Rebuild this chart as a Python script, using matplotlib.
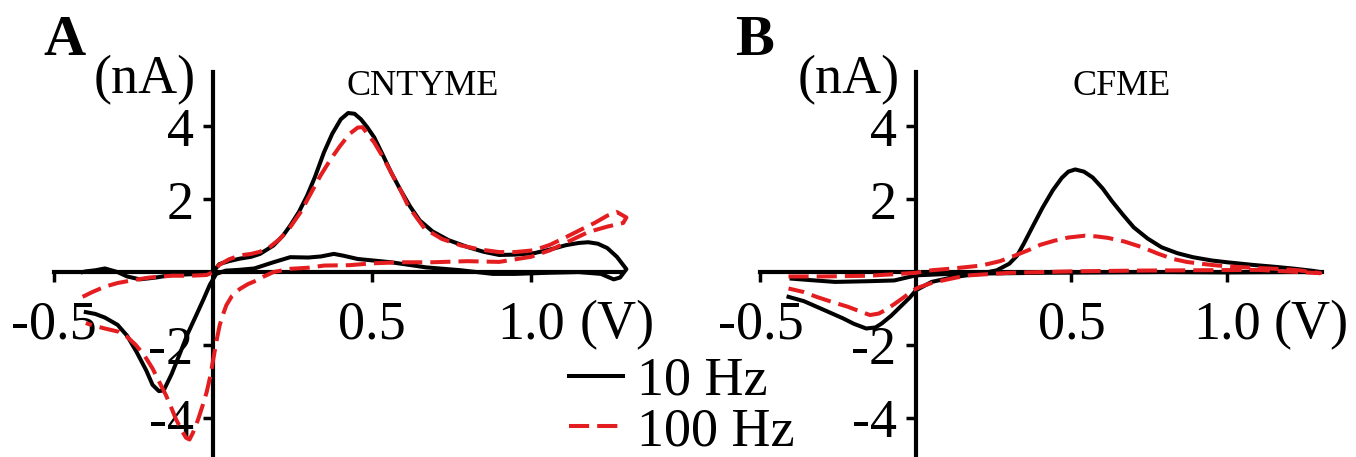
import matplotlib
matplotlib.use('Agg')
import matplotlib.pyplot as plt

plt.rcParams['font.family'] = ['Liberation Serif', 'DejaVu Serif']
plt.rcParams['axes.unicode_minus'] = False

# ---- panel A (CNTYME), potential in V, current in nA ----
a10_v = [-0.41, -0.40, -0.37, -0.34, -0.30, -0.27, -0.23, -0.18, -0.13, -0.07, -0.02, 0.0, 0.02, 0.05,
         0.085, 0.12, 0.148, 0.19, 0.22, 0.243, 0.27, 0.296, 0.32, 0.349, 0.375, 0.402, 0.425, 0.445,
         0.465, 0.485, 0.507, 0.535, 0.56, 0.59, 0.62, 0.65, 0.69, 0.74, 0.80, 0.85, 0.90, 0.95, 1.01,
         1.06, 1.11, 1.15, 1.18, 1.21, 1.24, 1.27, 1.30, 1.28, 1.26,
         1.22, 1.15, 1.05, 0.95, 0.88, 0.78, 0.67, 0.56, 0.455, 0.41, 0.38, 0.34, 0.30, 0.243, 0.19,
         0.13, 0.08, 0.04, 0.01, -0.01, -0.03, -0.053, -0.08, -0.106, -0.13, -0.155, -0.17, -0.19,
         -0.21, -0.24, -0.27, -0.30, -0.34, -0.37, -0.40]
a10_i = [0.0, 0.02, 0.05, 0.1, 0.0, -0.12, -0.2, -0.15, -0.08, -0.06, -0.05, 0.0, 0.22, 0.3,
         0.37, 0.42, 0.5, 0.73, 1.0, 1.28, 1.65, 2.1, 2.6, 3.29, 3.8, 4.2, 4.37, 4.35,
         4.2, 3.98, 3.7, 3.2, 2.74, 2.25, 1.8, 1.42, 1.12, 0.88, 0.69, 0.56, 0.47, 0.48, 0.52,
         0.62, 0.74, 0.8, 0.82, 0.78, 0.66, 0.42, 0.08, -0.15, -0.2,
         -0.05, 0.0, -0.02, -0.05, -0.05, 0.05, 0.13, 0.27, 0.36, 0.45, 0.5, 0.43, 0.4, 0.41, 0.27,
         0.1, 0.06, 0.04, -0.05, -0.35, -0.75, -1.19, -1.7, -2.28, -2.8, -3.25, -3.27, -3.1,
         -2.7, -2.2, -1.75, -1.45, -1.25, -1.15, -1.1]

a100_v = [-0.41, -0.38, -0.34, -0.30, -0.25, -0.20, -0.13, -0.07, -0.02, 0.0, 0.02, 0.05, 0.085, 0.12,
          0.148, 0.18, 0.21, 0.24, 0.275, 0.31, 0.338, 0.37, 0.40, 0.43, 0.455, 0.47, 0.49, 0.507,
          0.535, 0.56, 0.59, 0.613, 0.64, 0.666, 0.72, 0.78, 0.84, 0.90, 0.95, 1.01, 1.06, 1.11,
          1.16, 1.20, 1.24, 1.27, 1.30, 1.29,
          1.24, 1.18, 1.12, 1.06, 1.0, 0.9, 0.8, 0.69, 0.59, 0.5, 0.43, 0.35, 0.30, 0.243, 0.19,
          0.16, 0.137, 0.11, 0.085, 0.06, 0.042, 0.03, 0.021, 0.012, 0.005, -0.01, -0.02, -0.032,
          -0.045, -0.053, -0.065, -0.074, -0.085, -0.095, -0.116, -0.13, -0.148, -0.17, -0.19,
          -0.215, -0.243, -0.27, -0.296, -0.34, -0.38, -0.40]
a100_i = [-0.68, -0.55, -0.4, -0.3, -0.22, -0.15, -0.1, -0.1, -0.08, 0.0, 0.2, 0.35, 0.46, 0.5,
          0.56, 0.7, 0.91, 1.2, 1.64, 2.2, 2.65, 3.1, 3.47, 3.8, 3.97, 3.98, 3.75, 3.56,
          3.15, 2.74, 2.25, 1.83, 1.5, 1.19, 0.91, 0.73, 0.62, 0.55, 0.55, 0.6, 0.75, 0.96,
          1.18, 1.35, 1.55, 1.65, 1.5, 1.35,
          1.25, 1.1, 0.85, 0.6, 0.42, 0.28, 0.3, 0.27, 0.27, 0.24, 0.19, 0.18, 0.12, 0.09, 0.0,
          -0.12, -0.23, -0.33, -0.46, -0.65, -0.91, -1.2, -1.46, -1.85, -2.19, -2.92, -3.3, -3.65,
          -4.0, -4.2, -4.45, -4.6, -4.55, -4.4, -4.05, -3.75, -3.38, -3.0, -2.65,
          -2.3, -2.0, -1.78, -1.64, -1.55, -1.46, -1.4]

# ---- panel B (CFME) ----
b10_v = [-0.40, -0.34, -0.26, -0.15, -0.07, 0.0, 0.08, 0.15, 0.22, 0.26, 0.30, 0.325, 0.346, 0.375,
         0.407, 0.44, 0.469, 0.49, 0.512, 0.54, 0.568, 0.60, 0.63, 0.665, 0.70, 0.745, 0.79, 0.84,
         0.89, 0.95, 1.0, 1.08, 1.16, 1.22, 1.28, 1.30,
         1.2, 1.0, 0.8, 0.6, 0.4, 0.22, 0.18, 0.12, 0.05, 0.0, -0.02, -0.05, -0.08, -0.11, -0.13,
         -0.16, -0.2, -0.235, -0.28, -0.32, -0.36, -0.41]
b10_i = [-0.18, -0.22, -0.27, -0.25, -0.23, -0.09, -0.06, -0.04, -0.02, 0.05, 0.23, 0.45, 0.77, 1.25,
         1.77, 2.25, 2.59, 2.76, 2.82, 2.76, 2.6, 2.3, 1.95, 1.58, 1.23, 0.92, 0.68, 0.52,
         0.41, 0.32, 0.27, 0.2, 0.14, 0.09, 0.03, 0.0,
         0.0, -0.01, 0.0, -0.01, -0.02, -0.04, -0.07, -0.14, -0.27, -0.5, -0.7, -0.95, -1.2, -1.41, -1.52,
         -1.55, -1.42, -1.27, -1.1, -0.95, -0.8, -0.68]

b100_v = [-0.41, -0.30, -0.15, 0.0, 0.05, 0.12, 0.21, 0.27, 0.32, 0.358, 0.40, 0.444, 0.49, 0.543,
          0.58, 0.617, 0.67, 0.728, 0.78, 0.827, 0.87, 0.914, 0.97, 1.037, 1.10, 1.16, 1.23, 1.30,
          1.10, 0.90, 0.70, 0.50, 0.30, 0.17, 0.13, 0.086, 0.05, 0.012, -0.01, -0.037, -0.07, -0.10,
          -0.12, -0.148, -0.18, -0.22, -0.27, -0.32, -0.36, -0.41]
b100_i = [-0.12, -0.12, -0.1, -0.02, 0.05, 0.1, 0.18, 0.3, 0.46, 0.59, 0.75, 0.86, 0.95, 1.0,
          0.98, 0.94, 0.84, 0.68, 0.5, 0.36, 0.28, 0.23, 0.18, 0.14, 0.11, 0.09, 0.05, -0.03,
          0.06, 0.05, 0.04, 0.02, -0.02, -0.09, -0.15, -0.23, -0.3, -0.41, -0.5, -0.68, -0.88, -1.05,
          -1.14, -1.18, -1.08, -0.95, -0.82, -0.68, -0.55, -0.45]

xticks = [-0.5, 0.5, 1.0]
xtick_labels = ['-0.5', '0.5', '1.0']
yticks = [-4, -2, 2, 4]
ytick_labels = ['-4', '-2', '2', '4']
panels = [('A', 'CNTYME', a10_v, a10_i, a100_v, a100_i, 213, 318, 1.29, 43),
          ('B', 'CFME', b10_v, b10_i, b100_v, b100_i, 916, 311, 1.305, 735)]

W, H = 1356, 457
fig = plt.figure(figsize=(W / 100, H / 100), dpi=100)
red = '#e41e20'
xlo, xhi = -0.62, 1.40
ylo, yhi = -5.08, 5.7
ppn = 36.4  # px per nA

for letter, title, v1, i1, v2, i2, x0, ppv, xend, lx in panels:
    left = x0 + xlo * ppv
    ax = fig.add_axes([left / W, 0, (xhi - xlo) * ppv / W, (yhi - ylo) * ppn / H])
    l1, = ax.plot(v1, i1, c='k', lw=2.9, label='10 Hz', zorder=3)
    l2, = ax.plot(v2, i2, c=red, lw=2.9, ls=(0, (5, 2)), label='100 Hz', zorder=3)
    ax.set_xlim(xlo, xhi)
    ax.set_ylim(ylo, yhi)
    for s in ['top', 'right']:
        ax.spines[s].set_visible(False)
    ax.spines['left'].set_position(('data', 0))
    ax.spines['bottom'].set_position(('data', 0))
    ax.spines['left'].set_bounds(ylo, 5.5)
    ax.spines['bottom'].set_bounds(-0.5, xend)
    for s in ['left', 'bottom']:
        ax.spines[s].set_linewidth(3)
    ax.set_xticks(xticks, xtick_labels)
    ax.set_yticks(yticks, ytick_labels)
    ax.tick_params(axis='x', direction='out', length=7, width=2.5, pad=13, labelsize=39)
    ax.tick_params(axis='y', direction='out', length=7, width=2.5, pad=7, labelsize=39)
    ax.set_axisbelow(True)
    ax.patch.set_alpha(0)
    ax.text(1.27, -1.81, '(V)', fontsize=39, ha='center', va='baseline')
    ax.text(-0.215, 4.92, '(nA)', fontsize=39, ha='center', va='baseline')
    ax.text(0.66, 4.86, title, fontsize=26, ha='center', va='baseline')
    fig.text(lx / W, 1 - 55 / H, letter, fontsize=42, fontweight='bold', va='baseline')

fig.legend([l1, l2], ['10 Hz', '100 Hz'], loc='upper left', bbox_to_anchor=(569 / W, 1 - 356 / H),
           frameon=False, fontsize=39, handlelength=1.0, handletextpad=0.25, labelspacing=0.0,
           borderpad=0, borderaxespad=0)

fig.savefig('out.png', dpi=100)
